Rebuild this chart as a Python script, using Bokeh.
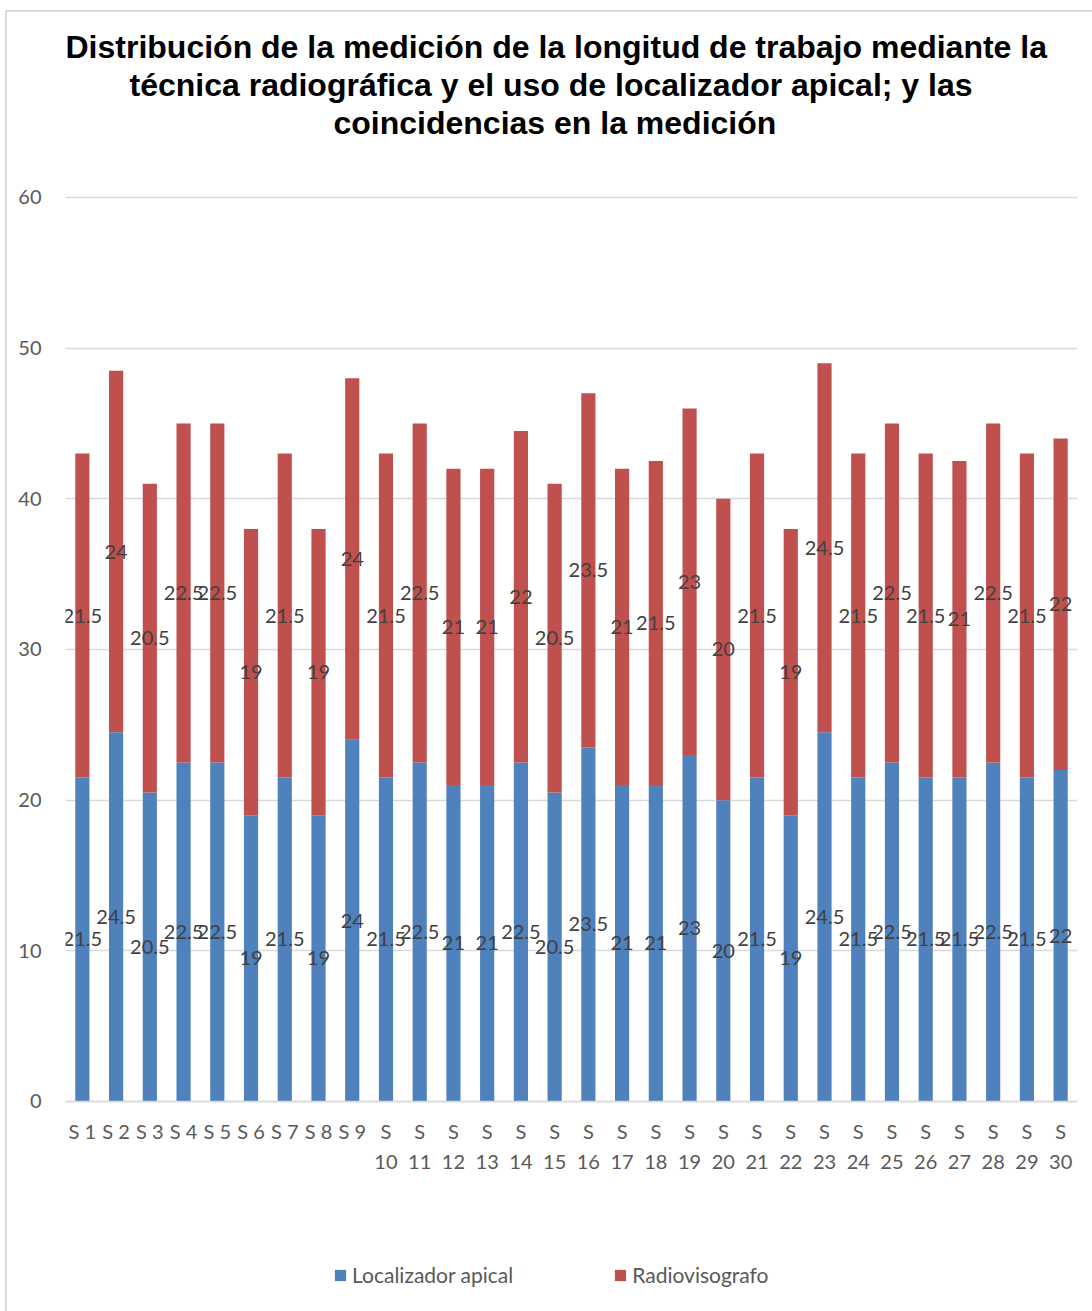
from bokeh.plotting import figure
from bokeh.models import ColumnDataSource, Legend, LegendItem, Title, FactorRange
from bokeh.embed import file_html
from bokeh.resources import INLINE
from bokeh.core.properties import value

# Subjects (tick labels wrap onto two lines from S 10 onward)
sujetos = ["S 1", "S 2", "S 3", "S 4", "S 5", "S 6", "S 7", "S 8", "S 9",
           "S\n10", "S\n11", "S\n12", "S\n13", "S\n14", "S\n15", "S\n16",
           "S\n17", "S\n18", "S\n19", "S\n20", "S\n21", "S\n22", "S\n23",
           "S\n24", "S\n25", "S\n26", "S\n27", "S\n28", "S\n29", "S\n30"]

# Working length (mm) per technique
localizador = [21.5, 24.5, 20.5, 22.5, 22.5, 19, 21.5, 19, 24, 21.5,
               22.5, 21, 21, 22.5, 20.5, 23.5, 21, 21, 23, 20,
               21.5, 19, 24.5, 21.5, 22.5, 21.5, 21.5, 22.5, 21.5, 22]
radiovisografo = [21.5, 24, 20.5, 22.5, 22.5, 19, 21.5, 19, 24, 21.5,
                  22.5, 21, 21, 22, 20.5, 23.5, 21, 21.5, 23, 20,
                  21.5, 19, 24.5, 21.5, 22.5, 21.5, 21, 22.5, 21.5, 22]

series = ["Localizador apical", "Radiovisografo"]
colores = ["#4F81BD", "#C0504D"]
y_ticks = [0, 10, 20, 30, 40, 50, 60]

# Title lines with their left offsets (px) so each line sits centred
titulo = [
    ("Distribución de la medición de la longitud de trabajo mediante la", 0),
    ("técnica radiográfica y el uso de localizador apical; y las", 64),
    ("coincidencias en la medición", 268),
]

FONT = "Lato"
TXT = "#404040"
AXT = "#595959"


def fmt(v):
    return f"{v:g}"


src = ColumnDataSource(dict(
    cat=sujetos,
    loc=localizador,
    rad=radiovisografo,
    loc_mid=[a / 2 for a in localizador],
    rad_mid=[a + b / 2 for a, b in zip(localizador, radiovisografo)],
    loc_txt=[fmt(v) for v in localizador],
    rad_txt=[fmt(v) for v in radiovisografo],
))

# The plotting area reaches below zero so the category labels and the
# legend can sit underneath the baseline inside it.
p = figure(
    x_range=FactorRange(factors=sujetos, range_padding=0),
    y_range=(-13.94, 63.78),
    frame_width=1012, frame_height=1171,
    output_backend="svg", toolbar_location=None,
    min_border_left=58, min_border_right=15,
    min_border_top=128, min_border_bottom=0,
)
p.styles = {"margin-left": "5px", "margin-top": "10px",
            "border-left": "2px solid #d9d9d9", "border-top": "2px solid #d9d9d9"}
p.outline_line_color = None
p.background_fill_color = "white"
p.border_fill_color = "white"

rs = p.vbar_stack(["loc", "rad"], x="cat", width=0.42, color=colores,
                  line_color=None, source=src)

for ycol, tcol in (("loc_mid", "loc_txt"), ("rad_mid", "rad_txt")):
    p.text(x="cat", y=ycol, text=tcol, source=src, text_align="center",
           text_baseline="middle", text_font=value(FONT),
           text_font_size="20px", text_color=TXT)

# Grid and axes
p.xgrid.grid_line_color = None
p.ygrid.grid_line_color = "#d9d9d9"
p.ygrid.grid_line_width = 1.3
p.yaxis.ticker = y_ticks
p.yaxis.axis_line_color = None
p.yaxis.major_tick_line_color = None
p.yaxis.minor_tick_line_color = None
p.yaxis.major_label_standoff = 18
p.yaxis.major_label_text_font = FONT
p.yaxis.major_label_text_font_size = "20px"
p.yaxis.major_label_text_color = AXT

p.xaxis.fixed_location = 0
p.xaxis.axis_line_color = "#d9d9d9"
p.xaxis.axis_line_width = 1.5
p.xaxis.major_tick_line_color = None
p.xaxis.major_label_standoff = 12
p.xaxis.major_label_text_font = FONT
p.xaxis.major_label_text_font_size = "20px"
p.xaxis.major_label_text_color = AXT
p.xaxis.major_label_text_line_height = 1.25

# Title, one line per Title (first added sits nearest the plot)
for linea, desplazamiento in reversed(titulo):
    p.add_layout(Title(
        text=linea, align="left", offset=desplazamiento,
        text_font="Liberation Sans", text_font_style="bold",
        text_font_size="32px", text_color="black", standoff=0,
    ), "above")

legend = Legend(
    items=[LegendItem(label=series[0], renderers=[rs[0]]),
           LegendItem(label=series[1], renderers=[rs[1]])],
    orientation="horizontal", location=(268, 24),
    glyph_width=14, glyph_height=14, spacing=100, label_standoff=5,
    label_text_font=FONT, label_text_font_size="21px",
    label_text_color=AXT, border_line_color=None,
    background_fill_alpha=0, margin=0, padding=4,
)
p.add_layout(legend, "center")

open("out.html", "w").write(file_html(p, INLINE))
